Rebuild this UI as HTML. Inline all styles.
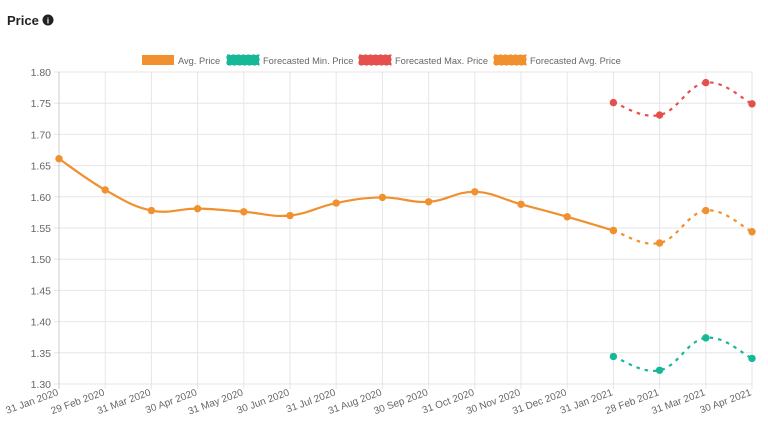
<!DOCTYPE html>
<html><head><meta charset="utf-8"><style>
body{margin:0;background:#fff;font-family:"Liberation Sans",sans-serif;}
</style></head><body>
<svg id="s" width="768" height="427" xmlns="http://www.w3.org/2000/svg" font-family="Liberation Sans, sans-serif">
<text x="7" y="25" font-size="13" font-weight="bold" fill="#222">Price</text>
<circle cx="48" cy="20" r="5.5" fill="#222"/><text x="48" y="23.5" font-size="8" font-weight="bold" fill="#fff" text-anchor="middle">i</text>
<g font-size="9.3" fill="#666">
<rect x="142" y="55" width="32" height="10" fill="#f0902f"/><text x="178" y="64">Avg. Price</text>
<rect x="227" y="55" width="32" height="10" fill="#17b897" stroke="#17b897" stroke-dasharray="3 2"/><text x="263" y="64">Forecasted Min. Price</text>
<rect x="359" y="55" width="32" height="10" fill="#e5504f" stroke="#e5504f" stroke-dasharray="3 2"/><text x="395" y="64">Forecasted Max. Price</text>
<rect x="494" y="55" width="32" height="10" fill="#f0902f" stroke="#f0902f" stroke-dasharray="3 2"/><text x="530" y="64">Forecasted Avg. Price</text>
</g>
<g id="grid"></g>
<g id="series"></g>
</svg>
<script>
var s=document.getElementById('s'),g=document.getElementById('grid'),se=document.getElementById('series');
var NS='http://www.w3.org/2000/svg';
function X(i){return 59+i*(752-59)/15}
function Y(v){return 384-(v-1.3)/0.5*312}
function el(t,a,p,txt){var e=document.createElementNS(NS,t);for(var k in a)e.setAttribute(k,a[k]);if(txt)e.textContent=txt;(p||g).appendChild(e);return e}
for(var k=0;k<=10;k++){var v=1.3+k*0.05,y=Y(v);el('line',{x1:54,x2:752,y1:y,y2:y,stroke:'#e6e6e6'});el('text',{x:51,y:y+4,'font-size':10.5,fill:'#666','text-anchor':'end'},g,v.toFixed(2));}
var labs=['31 Jan 2020','29 Feb 2020','31 Mar 2020','30 Apr 2020','31 May 2020','30 Jun 2020','31 Jul 2020','31 Aug 2020','30 Sep 2020','31 Oct 2020','30 Nov 2020','31 Dec 2020','31 Jan 2021','28 Feb 2021','31 Mar 2021','30 Apr 2021'];
for(var i=0;i<16;i++){var x=X(i);el('line',{x1:x,x2:x,y1:72,y2:389,stroke:i==0?'#ccc':'#e6e6e6'});el('text',{x:x,y:395,'font-size':10,fill:'#666','text-anchor':'end',transform:'rotate(-20 '+x+' 395)'},g,labs[i]);}
function path(pts){var d='M'+pts[0][0]+','+pts[0][1],t=0.4;for(var i=0;i<pts.length-1;i++){var p0=pts[i-1]||pts[i],p1=pts[i],p2=pts[i+1],p3=pts[i+2]||p2;var c1=[p1[0]+(p2[0]-p0[0])*t/2,p1[1]+(p2[1]-p0[1])*t/2],c2=[p2[0]-(p3[0]-p1[0])*t/2,p2[1]-(p3[1]-p1[1])*t/2];d+=' C'+c1+' '+c2+' '+p2;}return d}
function series(st,vals,col,dash){var pts=vals.map(function(v,i){return[X(st+i),Y(v)]});var a={d:path(pts),fill:'none',stroke:col,'stroke-width':2.2};if(dash)a['stroke-dasharray']='3.5 5';el('path',a,se);pts.forEach(function(p){el('circle',{cx:p[0],cy:p[1],r:3.7,fill:col},se)})}
series(0,[1.661,1.611,1.578,1.581,1.576,1.570,1.590,1.599,1.592,1.608,1.588,1.568,1.546],'#f0902f');
series(12,[1.546,1.526,1.578,1.544],'#f0902f',1);
series(12,[1.751,1.731,1.783,1.749],'#e5504f',1);
series(12,[1.344,1.322,1.374,1.341],'#17b897',1);
</script>
</body></html>
